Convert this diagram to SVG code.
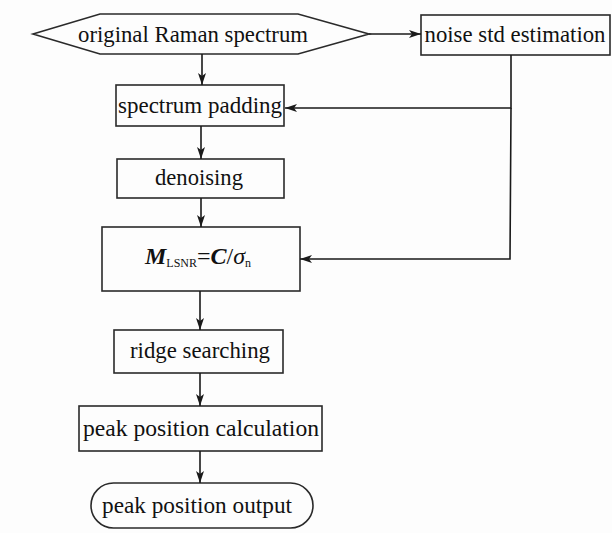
<svg xmlns="http://www.w3.org/2000/svg" width="612" height="533" viewBox="0 0 612 533">
<defs>
<marker id="ah" viewBox="0 0 12 8" refX="12" refY="4" markerWidth="12" markerHeight="8" markerUnits="userSpaceOnUse" orient="auto">
<path d="M0,0 L12,4 L0,8 L3,4 z" fill="#1a1a1a"/>
</marker>
<style>
.box{fill:none;stroke:#2a2a2a;stroke-width:1.6}
.t{font-size:23px;fill:#111;text-anchor:middle}
.c{fill:none;stroke:#1a1a1a;stroke-width:1.6}
</style>
</defs>
<rect width="612" height="533" fill="#fdfdfd"/>
<g font-family="Liberation Serif, DejaVu Serif, serif">
<g id="n1"><polygon class="box" points="33,34 100,14 298,14 369,34 298,54 100,54"/><text class="t" x="193" y="42" textLength="230" lengthAdjust="spacingAndGlyphs">original Raman spectrum</text></g>
<g id="n2"><rect class="box" x="421" y="15" width="189" height="40"/><text class="t" x="515" y="42" textLength="181" lengthAdjust="spacingAndGlyphs">noise std estimation</text></g>
<g id="n3"><rect class="box" x="116" y="85" width="168" height="41"/><text class="t" x="200" y="113" textLength="164" lengthAdjust="spacingAndGlyphs">spectrum padding</text></g>
<g id="n4"><rect class="box" x="117" y="159" width="167" height="39"/><text class="t" x="199" y="185" textLength="88" lengthAdjust="spacingAndGlyphs">denoising</text></g>
<g id="n5"><rect class="box" x="102" y="227" width="198" height="64"/><text x="145" y="264" font-size="24" fill="#111"><tspan font-weight="bold" font-style="italic">M</tspan><tspan font-size="12" dy="3">LSNR</tspan><tspan dy="-3">=</tspan><tspan font-weight="bold" font-style="italic">C</tspan><tspan>/</tspan><tspan font-style="italic">σ</tspan><tspan font-size="12" dy="3">n</tspan></text></g>
<g id="n6"><rect class="box" x="114" y="330" width="169" height="43"/><text class="t" x="200" y="358" textLength="140" lengthAdjust="spacingAndGlyphs">ridge searching</text></g>
<g id="n7"><rect class="box" x="79" y="406" width="243" height="45"/><text class="t" x="201" y="436" textLength="236" lengthAdjust="spacingAndGlyphs">peak position calculation</text></g>
<g id="n8"><rect class="box" x="91" y="483" width="222" height="45" rx="22.5" ry="22.5"/><text class="t" x="197" y="513" textLength="190" lengthAdjust="spacingAndGlyphs">peak position output</text></g>
</g>
<g id="connectors">
<line class="c" x1="369" y1="34" x2="421" y2="34" marker-end="url(#ah)"/>
<line class="c" x1="202" y1="54" x2="202" y2="85" marker-end="url(#ah)"/>
<polyline class="c" points="511,55 511,108 285,108" marker-end="url(#ah)"/>
<polyline class="c" points="511,108 510,259 300,259" marker-end="url(#ah)"/>
<line class="c" x1="201" y1="126" x2="201" y2="159" marker-end="url(#ah)"/>
<line class="c" x1="201" y1="198" x2="201" y2="227" marker-end="url(#ah)"/>
<line class="c" x1="200" y1="291" x2="200" y2="330" marker-end="url(#ah)"/>
<line class="c" x1="200" y1="373" x2="200" y2="406" marker-end="url(#ah)"/>
<line class="c" x1="200" y1="451" x2="200" y2="483" marker-end="url(#ah)"/>
</g>
</svg>
